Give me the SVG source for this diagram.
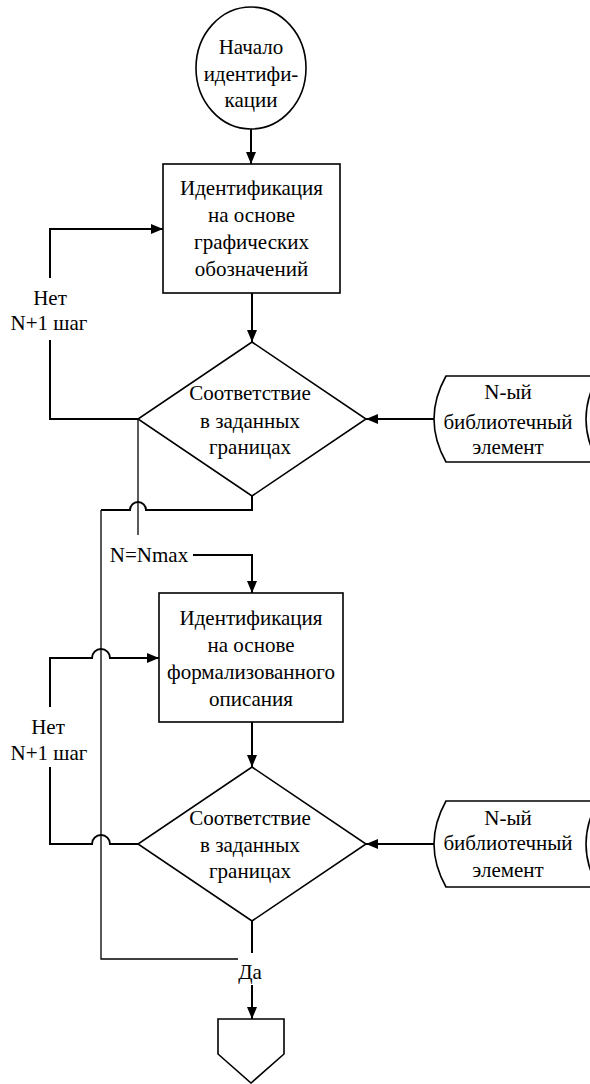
<svg xmlns="http://www.w3.org/2000/svg" width="590" height="1084" viewBox="0 0 590 1084">
<style>
.shape{fill:#fff;stroke:#000;stroke-width:1.6}
.line{fill:none;stroke:#000;stroke-width:2}
.thin{fill:none;stroke:#000;stroke-width:1.3}
.t{font-family:'Liberation Serif','Times New Roman','DejaVu Serif',serif;font-size:21px;fill:#000;text-anchor:middle}
</style>
<defs>
<marker id="arr" markerUnits="userSpaceOnUse" markerWidth="12" markerHeight="10" viewBox="0 0 12 10" refX="12" refY="5" orient="auto">
<path d="M0,0 L12,5 L0,10 Z" fill="#000"/>
</marker>
</defs>
<rect width="590" height="1084" fill="#fff"/>
<g id="connectors">
<path class="line" d="M251,129 V164" marker-end="url(#arr)"/>
<path class="line" d="M252,293 V342" marker-end="url(#arr)"/>
<path class="line" d="M434,419 H366" marker-end="url(#arr)"/>
<path class="line" d="M138,419 H50 V340"/>
<path class="line" d="M50,278 V229 H163" marker-end="url(#arr)"/>
<path class="line" d="M252,496 V510 H146 A8,8 0 0 0 130,510 H101"/>
<path class="thin" d="M101,510 V959 H238"/>
<path class="thin" d="M138,419 V535"/>
<path class="line" d="M193,555 H252 V593" marker-end="url(#arr)"/>
<path class="line" d="M252,722 V767" marker-end="url(#arr)"/>
<path class="line" d="M434,844 H366" marker-end="url(#arr)"/>
<path class="line" d="M138,844 H110 A9,9 0 0 0 92,844 H50 V767"/>
<path class="line" d="M50,707 V658 H92 A9,9 0 0 1 110,658 H159" marker-end="url(#arr)"/>
<path class="line" d="M252,921 V953"/>
<path class="line" d="M252,985 V1019" marker-end="url(#arr)"/>
<text class="t" font-family="Liberation Serif" x="50" y="305">Нет</text>
<text class="t" font-family="Liberation Serif" x="49" y="330">N+1 шаг</text>
<text class="t" font-family="Liberation Serif" x="149" y="562">N=Nmax</text>
<text class="t" font-family="Liberation Serif" x="48" y="734">Нет</text>
<text class="t" font-family="Liberation Serif" x="49" y="760">N+1 шаг</text>
<text class="t" font-family="Liberation Serif" x="250" y="979">Да</text>
</g>
<g id="start">
<ellipse class="shape" cx="251" cy="68" rx="55" ry="61"/>
<text class="t" x="251" y="54">Начало</text>
<text class="t" x="251" y="81">идентифи-</text>
<text class="t" x="251" y="107">кации</text>
</g>
<g id="box1">
<rect class="shape" x="163" y="164" width="177" height="129"/>
<text class="t" x="251.5" y="195">Идентификация</text>
<text class="t" x="251.5" y="222">на основе</text>
<text class="t" x="251.5" y="249">графических</text>
<text class="t" x="251.5" y="276">обозначений</text>
</g>
<g id="decision1">
<path class="shape" d="M252,342 L366,419 L252,496 L138,419 Z"/>
<text class="t" x="250" y="400">Соответствие</text>
<text class="t" x="250" y="428">в заданных</text>
<text class="t" x="250" y="454">границах</text>
</g>
<g id="library1">
<path class="shape" d="M446,376 L598,376 Q574,419 598,462 L446,462 Q422,419 446,376 Z"/>
<text class="t" x="508" y="399">N-ый</text>
<text class="t" x="508" y="429">библиотечный</text>
<text class="t" x="508" y="454">элемент</text>
</g>
<g id="box2">
<rect class="shape" x="159" y="593" width="184" height="129"/>
<text class="t" x="251" y="625">Идентификация</text>
<text class="t" x="251" y="652">на основе</text>
<text class="t" x="251" y="679">формализованного</text>
<text class="t" x="251" y="706">описания</text>
</g>
<g id="decision2">
<path class="shape" d="M252,767 L366,844 L252,921 L138,844 Z"/>
<text class="t" x="250" y="825">Соответствие</text>
<text class="t" x="250" y="852">в заданных</text>
<text class="t" x="250" y="878">границах</text>
</g>
<g id="library2">
<path class="shape" d="M446,801 L598,801 Q574,844 598,887 L446,887 Q422,844 446,801 Z"/>
<text class="t" x="508" y="825">N-ый</text>
<text class="t" x="508" y="850">библиотечный</text>
<text class="t" x="508" y="877">элемент</text>
</g>
<g id="end">
<path class="shape" d="M218,1019 H284 V1054 L251,1083 L218,1054 Z"/>
</g>
</svg>
